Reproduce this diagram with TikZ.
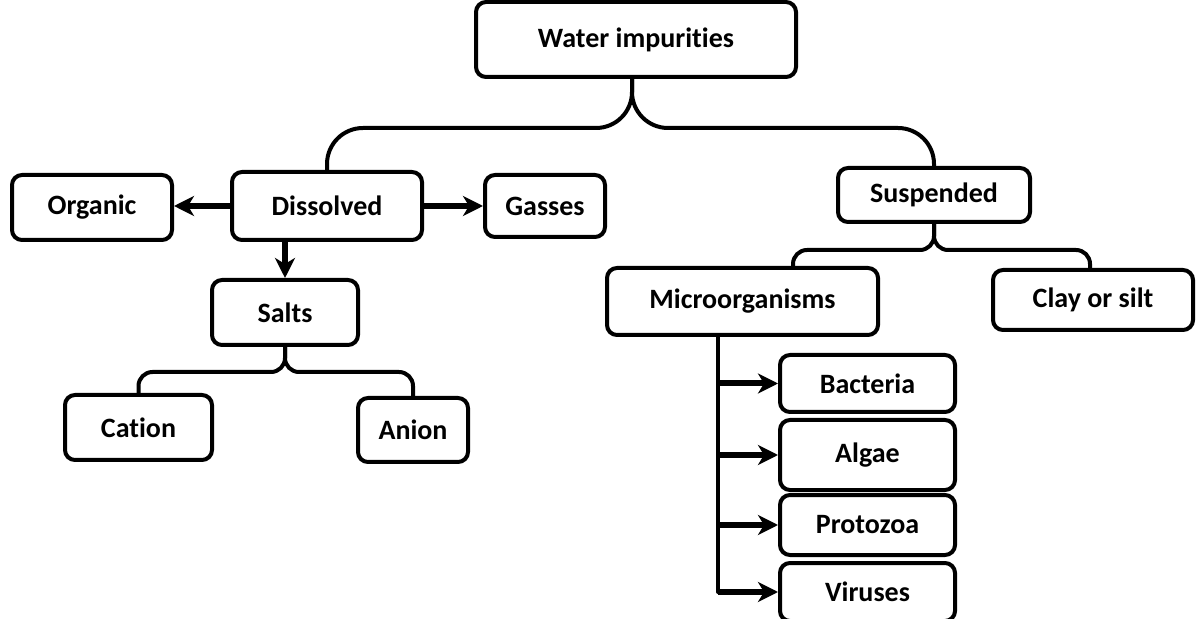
\documentclass[tikz,border=0pt]{standalone}
\usepackage{fontspec}
\setmainfont{Carlito}[Ligatures=NoCommon]
\usetikzlibrary{arrows.meta,calc}
\begin{document}
\begin{tikzpicture}[x=0.5pt,y=-0.5pt,
  box/.style={draw=black, line width=2pt, rounded corners=5pt, fill=white,
    font=\fontsize{14}{16}\selectfont\bfseries, inner sep=0pt, align=center},
  conn/.style={line width=2pt, line cap=round},
  arr/.style={line width=3pt, -{Stealth[length=10pt,width=10pt,inset=3pt]}},
  brace/.style={line width=2pt}
]
\useasboundingbox[fill=white] (0,0) rectangle (1198,619);

\node[box, minimum width=160pt, minimum height=37.5pt] (Water) at (636,39.5) {Water impurities};
\node[box, minimum width=80pt, minimum height=32.5pt] (Organic) at (92,207.5) {Organic};
\node[box, minimum width=95pt, minimum height=34pt] (Dissolved) at (327,206) {Dissolved};
\node[box, minimum width=60pt, minimum height=31pt] (Gasses) at (545,206) {Gasses};
\node[box, minimum width=96pt, minimum height=27pt] (Suspended) at (934,195) {Suspended};
\node[box, minimum width=73pt, minimum height=32.5pt] (Salts) at (285,312.5) {Salts};
\node[box, minimum width=73.5pt, minimum height=32.5pt] (Cation) at (138.5,427.5) {Cation};
\node[box, minimum width=55pt, minimum height=32pt] (Anion) at (413,430) {Anion};
\node[box, minimum width=135.5pt, minimum height=33.5pt] (Micro) at (742.5,301.5) {Microorganisms};
\node[box, minimum width=100pt, minimum height=30pt] (Clay) at (1093,300) {Clay or silt};
\node[box, minimum width=87.5pt, minimum height=28.5pt] (Bacteria) at (867.5,383.5) {Bacteria};
\node[box, minimum width=87.5pt, minimum height=35pt] (Algae) at (867.5,455) {Algae};
\node[box, minimum width=87.5pt, minimum height=30pt] (Protozoa) at (867.5,525) {Protozoa};
\node[box, minimum width=87.5pt, minimum height=29pt] (Viruses) at (867.5,592) {Viruses};

% top brace
\coordinate (tb) at (632,128);
\draw[brace, rounded corners=18pt] (Dissolved.north) |- (tb) -- (tb |- Water.south);
\draw[brace, rounded corners=18pt] (Suspended.north) |- (tb) -- (tb |- Water.south);

% dissolved arrows
\draw[arr] (Dissolved.west) -- (Dissolved.west -| Organic.east);
\draw[arr] (Dissolved.east) -- (Dissolved.east -| Gasses.west);
\draw[arr] (Salts.north |- Dissolved.south) -- (Salts.north);

% salts brace
\coordinate (sb) at (285,372);
\draw[brace, rounded corners=7pt] (Cation.north) |- (sb) -- (Salts.south);
\draw[brace, rounded corners=7pt] (Anion.north) |- (sb) -- (Salts.south);

% suspended brace
\coordinate (pb) at (934,250);
\coordinate (mtop) at (793,0);
\coordinate (ctop) at (1090,0);
\draw[brace, rounded corners=7pt] (mtop |- Micro.north) |- (pb) -- (Suspended.south);
\draw[brace, rounded corners=7pt] (ctop |- Clay.north) |- (pb) -- (Suspended.south);

% microorganisms list
\coordinate (tx) at (718,0);
\draw[conn] (tx |- Micro.south) -- (tx |- Viruses.west);
\draw[arr] (tx |- Bacteria.west) -- (Bacteria.west);
\draw[arr] (tx |- Algae.west) -- (Algae.west);
\draw[arr] (tx |- Protozoa.west) -- (Protozoa.west);
\draw[arr] (tx |- Viruses.west) -- (Viruses.west);
\end{tikzpicture}
\end{document}
